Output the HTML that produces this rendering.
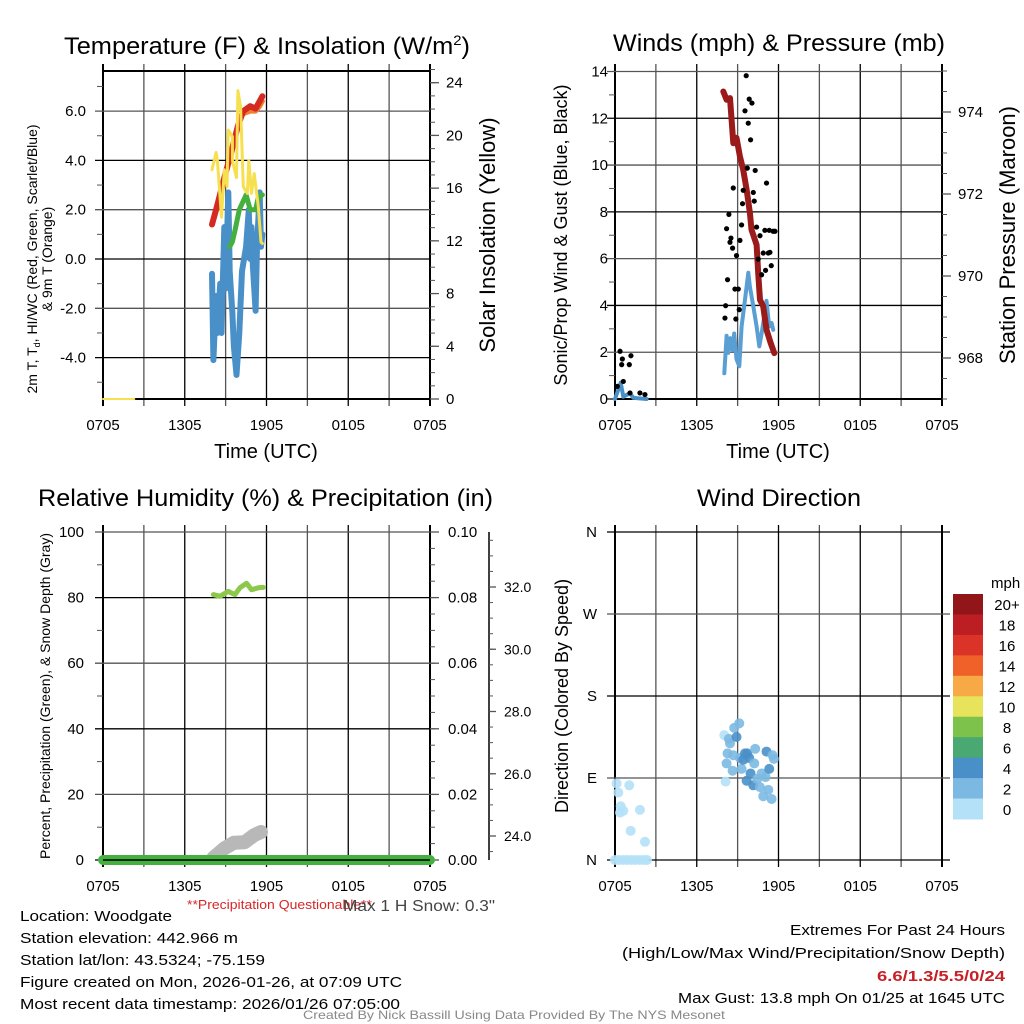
<!DOCTYPE html>
<html><head><meta charset="utf-8"><style>
html,body{margin:0;padding:0;background:#fff;}
svg{display:block;font-family:"Liberation Sans",Arial,sans-serif;}
</style></head><body>
<svg id="chart" width="1024" height="1024" viewBox="0 0 1024 1024">
<rect x="0" y="0" width="1024" height="1024" fill="#fff"/>
<g id="layer"></g>
<!-- titles -->
<text x="64" y="54" font-size="24" textLength="406" lengthAdjust="spacingAndGlyphs">Temperature (F) &amp; Insolation (W/m<tspan dy="-9" font-size="14">2</tspan><tspan dy="9">)</tspan></text>
<text x="613" y="51" font-size="24" textLength="332" lengthAdjust="spacingAndGlyphs">Winds (mph) &amp; Pressure (mb)</text>
<text x="38" y="506" font-size="24" textLength="455" lengthAdjust="spacingAndGlyphs">Relative Humidity (%) &amp; Precipitation (in)</text>
<text x="697" y="506" font-size="24" textLength="164" lengthAdjust="spacingAndGlyphs">Wind Direction</text>
<text x="266" y="458" font-size="20" text-anchor="middle">Time (UTC)</text>
<text x="778" y="458" font-size="20" text-anchor="middle">Time (UTC)</text>
<text transform="translate(37,259) rotate(-90)" font-size="14" text-anchor="middle">2m T, T<tspan font-size="9" dy="3">d</tspan><tspan dy="-3">, HI/WC (Red, Green, Scarlet/Blue)</tspan></text>
<text transform="translate(52,259) rotate(-90)" font-size="14" text-anchor="middle">&amp; 9m T (Orange)</text>
<text transform="translate(495,235) rotate(-90)" font-size="22" text-anchor="middle">Solar Insolation (Yellow)</text>
<text transform="translate(567,235) rotate(-90)" font-size="18" text-anchor="middle">Sonic/Prop Wind &amp; Gust (Blue, Black)</text>
<text transform="translate(1015,235) rotate(-90)" font-size="22" text-anchor="middle">Station Pressure (Maroon)</text>
<text transform="translate(50,696) rotate(-90)" font-size="14" text-anchor="middle">Percent, Precipitation (Green), &amp; Snow Depth (Gray)</text>
<text transform="translate(568,696) rotate(-90)" font-size="18" text-anchor="middle">Direction (Colored By Speed)</text>
<!-- footer -->
<text x="187" y="909" font-size="13" fill="#d62728" textLength="185" lengthAdjust="spacingAndGlyphs">**Precipitation Questionable**</text>
<text x="343" y="911" font-size="16" fill="#444" textLength="152" lengthAdjust="spacingAndGlyphs">Max 1 H Snow: 0.3"</text>
<g font-size="15">
<text x="20" y="921" textLength="152" lengthAdjust="spacingAndGlyphs">Location: Woodgate</text>
<text x="20" y="943" textLength="218" lengthAdjust="spacingAndGlyphs">Station elevation: 442.966 m</text>
<text x="20" y="965" textLength="245" lengthAdjust="spacingAndGlyphs">Station lat/lon: 43.5324; -75.159</text>
<text x="20" y="987" textLength="382" lengthAdjust="spacingAndGlyphs">Figure created on Mon, 2026-01-26, at 07:09 UTC</text>
<text x="20" y="1009" textLength="380" lengthAdjust="spacingAndGlyphs">Most recent data timestamp: 2026/01/26 07:05:00</text>
</g>
<g font-size="15">
<text x="790" y="935" textLength="215" lengthAdjust="spacingAndGlyphs">Extremes For Past 24 Hours</text>
<text x="622" y="958" textLength="383" lengthAdjust="spacingAndGlyphs">(High/Low/Max Wind/Precipitation/Snow Depth)</text>
<text x="877" y="981" fill="#c62026" font-weight="bold" textLength="128" lengthAdjust="spacingAndGlyphs">6.6/1.3/5.5/0/24</text>
<text x="678" y="1003" textLength="327" lengthAdjust="spacingAndGlyphs">Max Gust: 13.8 mph On 01/25 at 1645 UTC</text>
</g>
<text x="303" y="1019" font-size="12" fill="#888" textLength="422" lengthAdjust="spacingAndGlyphs">Created By Nick Bassill Using Data Provided By The NYS Mesonet</text>
</svg>
<script>
// ---- data (hours since 0705 UTC) ----
const xTickLabels = ["0705","1305","1905","0105","0705"];
const tempHours = [8.0,8.4,8.9,9.4,9.9,10.3,10.8,11.2,11.5,11.7];
const tempValues = [1.4,2.2,3.3,4.3,5.4,6.0,6.2,6.1,6.4,6.6];
const temp9mHours = [10.3,10.8,11.2,11.5,11.7];
const temp9mValues = [5.9,6.0,6.0,6.2,6.4];
const insolHours = [8.0,8.3,8.4,8.7,8.9,9.1,9.2,9.5,9.5,9.8,9.9,10.1,10.3,10.6,10.7,10.9,11.1,11.4,11.6,11.7];
const insolValues = [17.4,18.7,18.1,13.8,17.4,16.1,20.4,19.9,18.1,16.8,23.4,22.2,16.1,15.6,18.1,15.6,17.1,14.6,11.9,11.8];
const insolNightHours = [0,2.3];
const insolNightValues = [0,0];
const wcHours = [8.0,8.1,8.3,8.4,8.6,8.7,8.9,9.0,9.2,9.3,9.5,9.6,9.8,10.0,10.2,10.5,10.7,10.8,10.9,11.0,11.2,11.3,11.5,11.6,11.7];
const wcValues = [-0.6,-4.1,-1.5,-3.0,-1.0,-3.0,1.3,-1.2,2.7,-0.5,-2.2,-3.5,-4.7,-3.0,-0.5,0.5,2.0,0.0,1.3,-0.3,-2.1,0.5,2.7,0.5,1.0];
const dewHours = [9.3,9.5,9.7,10.0,10.5,10.8,11.2,11.4,11.7];
const dewValues = [0.5,0.7,1.2,2.0,2.6,2.0,2.0,2.5,2.6];
const tempTicks = [-4,-2,0,2,4,6];
const insolTicks = [0,4,8,12,16,20,24];

const gustHours = [0.37,0.49,0.54,0.61,0.17,1.05,1.17,1.1,1.83,2.2,8.07,8.12,8.19,8.26,8.36,8.44,8.51,8.63,8.68,8.8,8.87,8.92,9.05,9.12,9.17,9.29,9.36,9.41,9.54,9.63,9.78,9.85,9.95,10.05,9.71,10.15,10.22,10.29,10.39,10.51,10.64,10.76,10.88,11.0,11.05,11.12,11.25,11.32,11.37,11.47,11.61,11.74];
const gustValues = [2.04,1.47,1.71,0.75,0.54,1.47,1.85,0.26,0.26,0.19,3.46,3.99,7.28,5.1,7.89,6.7,6.88,6.45,9.02,4.7,3.42,6.13,4.7,3.82,6.78,7.44,8.35,8.92,12.32,13.82,11.79,12.82,11.08,12.65,9.87,8.83,8.46,9.77,7.35,5.98,6.98,5.31,6.24,7.21,5.5,9.23,6.24,7.21,6.27,5.7,7.17,7.17];
const windHours = [0,0.24,0.42,0.61,1.1,1.34,2.32];
const windValues = [0,0.4,0.7,0.1,0.25,0.05,0];
const windHours2 = [8.02,8.19,8.31,8.48,8.63,8.75,8.92,9.12,9.29,9.54,9.78,9.9,10.15,10.39,10.59,10.76,11.0,11.12,11.32,11.49,11.61];
const windValues2 = [1.1,2.7,1.97,2.6,2.1,2.8,1.7,1.4,3.1,4.25,5.4,4.8,3.96,3.1,2.25,2.8,3.7,4.2,3.1,3.25,2.96];
const presHours = [7.95,8.19,8.44,8.56,8.68,8.92,9.17,9.41,9.66,9.9,10.02,10.39,10.51,10.64,10.88,11.12,11.42,11.69];
const presValues = [974.5,974.3,974.34,973.81,973.24,973.37,972.92,972.59,972.11,971.54,971.13,970.76,970.07,969.42,969.26,968.69,968.37,968.12];
const windTicks = [0,2,4,6,8,10,12,14];
const presTicks = [968,970,972,974];

const rhHours = [8.1,8.58,9.2,9.68,10.05,10.54,10.9,11.4,11.76];
const rhValues = [80.9,80.4,81.9,80.9,83.0,84.4,82.4,83.0,83.1];
const precipHours = [0,24];
const precipValues = [0,0];
const snowHours = [8.1,8.9,9.6,10.4,11.1,11.6];
const snowValues = [23.3,23.6,23.78,23.8,24.03,24.13];
const rhTicks = [0,20,40,60,80,100];
const precipTicks = ["0.00","0.02","0.04","0.06","0.08","0.10"];
const snowTicks = [24,26,28,30,32];

const dirHours = [0.12,0.24,0.42,0.37,0.61,1.05,1.15,1.83,2.2,0,0.3,0.6,0.9,1.2,1.5,1.8,2.1,2.35,8.02,8.12,8.19,8.26,8.36,8.44,8.63,8.68,8.75,8.92,9.12,9.17,9.29,9.41,9.54,9.66,9.71,9.85,9.95,10.15,10.22,10.29,10.44,10.64,10.76,10.88,11.05,11.12,11.25,11.32,11.49,11.56,11.66];
const dirValues = [84,74,59,52,54,82,32,55,20,0,0,0,0,0,0,0,0,0,137,86,106,117,133,128,98,115,145,135,150,112,100,110,117,87,117,112,95,82,106,122,89,80,95,70,91,119,77,100,67,115,111];
const dirSpeeds = [0,0,0,0,0,0,0,0,0,0,0,0,0,0,0,0,0,0,0,0,2,2,2,2,2,2,2,4,2,2,2,4,4,4,4,4,4,4,2,2,2,2,2,2,2,4,2,4,2,2,2];
const dirTicks = ["N","E","S","W","N"];
const speedLabels = ["20+","18","16","14","12","10","8","6","4","2","0"];
const speedColors = ["#921519","#bd1e24","#db3327","#ef6129","#f6a945","#e7e35b","#7dc24b","#4aa873","#4a90c8","#7cb9e2","#b4e1f7"];

// ---- helpers ----
const NS="http://www.w3.org/2000/svg";
const layer=document.getElementById('layer');
function mk(tag,attrs,parent){const e=document.createElementNS(NS,tag);for(const k in attrs)e.setAttribute(k,attrs[k]);(parent||layer).appendChild(e);return e;}
function linScale(d0,d1,r0,r1){return v=>r0+(v-d0)*(r1-r0)/(d1-d0);}
function poly(xs,ys,sx,sy){return xs.map((h,i)=>sx(h).toFixed(1)+","+sy(ys[i]).toFixed(1)).join(" ");}

function panel(name,x0,x1,y0,y1){
  const g=mk('g',{});
  
  
  for(let i=0;i<=8;i++){
    const x=x0+(x1-x0)*i/8;
    mk('line',{x1:x,x2:x,y1:y0-7,y2:y1+7,stroke:(i%2?'#555':'#000'),'stroke-width':(i==0||i==8)?2:1.3},g);
  }
  const lab=mk('g',{'font-size':15,'text-anchor':'middle'});
  
  
  xTickLabels.forEach((t,i)=>{const tx=mk('text',{x:x0+(x1-x0)*i/4,y:y1+31},lab);tx.textContent=t;});
}
function hGrid(name,x0,x1,ys,labels,lx){
  const g=mk('g',{'font-size':15,'text-anchor':'end'});
  
  
  ys.forEach((y,i)=>{
    mk('line',{x1:x0-8,x2:x1,y1:y,y2:y,stroke:(i%2?'#555':'#000'),'stroke-width':1.3},g);
    if(labels){const t=mk('text',{x:lx,y:y+5},g);t.textContent=labels[i];}
  });
}
function ticks(name,x,ys,len,w){
  const g=mk('g',{});
  
  
  ys.forEach(y=>mk('line',{x1:x,x2:x+len,y1:y,y2:y,stroke:'#555','stroke-width':w||1},g));
}
function rightLabels(name,x,ys,labels,fs){
  const g=mk('g',{'font-size':fs||15});
  
  
  ys.forEach((y,i)=>{const t=mk('text',{x:x,y:y+5},g);t.textContent=labels[i];});
}
function line(name,xs,ys,sx,sy,color,w,op){
  const p=mk('polyline',{points:poly(xs,ys,sx,sy),fill:'none',stroke:color,'stroke-width':w,'stroke-linecap':'round','stroke-linejoin':'round',opacity:op||1});
  
  
}

// ---- Panel 1: temperature ----
(function(){
  const X0=103,X1=430,Y0=71,Y1=399;
  const sx=linScale(0,24,X0,X1), sy=linScale(0,2,259,209.7), si=linScale(0,24,399,82.7);
  panel('temp',X0,X1,Y0,Y1);
  hGrid('temp-y-grid',X0,X1,tempTicks.map(sy),tempTicks.map(v=>v.toFixed(1)),86);
  const minor=[];for(let v=-5;v<=7;v++)if(v%2)minor.push(sy(v));
  ticks('temp-minor-ticks',X0-6,minor,6);
  mk('line',{x1:X0,x2:X1,y1:Y1,y2:Y1,stroke:'#000','stroke-width':2});
  mk('line',{x1:X0,x2:X1,y1:Y0,y2:Y0,stroke:'#000','stroke-width':2});
  const im=[];for(let v=0;v<=25;v++)im.push(si(v));
  ticks('insolation-minor-ticks',X1,im,5);
  ticks('insolation-major-ticks',X1,insolTicks.map(si),9,1.3);
  rightLabels('insolation-tick-labels',446,insolTicks.map(si),insolTicks.map(String));
  line('wind-chill-line',wcHours,wcValues,sx,sy,'#4a90c8',6);
  line('dewpoint-line',dewHours,dewValues,sx,sy,'#44b040',5);
  line('temp-9m-line',temp9mHours,temp9mValues,sx,sy,'#f08030',5);
  line('temp-2m-line',tempHours,tempValues,sx,sy,'#d42a20',6);
  line('insolation-line',insolHours,insolValues,sx,si,'#f6e050',3);
  line('insolation-night-line',insolNightHours,insolNightValues,sx,si,'#f6e050',2);
})();

// ---- Panel 2: winds ----
(function(){
  const X0=615,X1=942,Y0=71,Y1=399;
  const sx=linScale(0,24,X0,X1), sy=linScale(0,14,399,71.5), sp=linScale(968,974,358,112);
  panel('wind',X0,X1,Y0,Y1);
  hGrid('wind-y-grid',X0,X1,windTicks.map(sy),windTicks.map(String),608);
  const minor=[];for(let v=1;v<14;v+=2)minor.push(sy(v));
  ticks('wind-minor-ticks',X0-6,minor,6);
  mk('line',{x1:X0,x2:X1,y1:Y1,y2:Y1,stroke:'#000','stroke-width':2});
  const pm=[];for(let v=967;v<=975;v+=0.5)pm.push(sp(v));
  ticks('pressure-minor-ticks',X1,pm.filter(y=>y>=Y0&&y<=Y1),5);
  ticks('pressure-major-ticks',X1,presTicks.map(sp),9,1.3);
  rightLabels('pressure-tick-labels',958,presTicks.map(sp),presTicks.map(String));
  line('wind-speed-line-early',windHours,windValues,sx,sy,'#4a90c8',4);
  line('wind-speed-line',windHours2,windValues2,sx,sy,'#5a9fd4',4);
  line('pressure-line',presHours,presValues,sx,sp,'#9b1b1b',6);
  gustHours.forEach((h,i)=>{
    const c=mk('circle',{cx:sx(h),cy:sy(gustValues[i]),r:2.6,fill:'#000'});
    
    
  });
})();

// ---- Panel 3: humidity ----
(function(){
  const X0=103,X1=430,Y0=532,Y1=860;
  const sx=linScale(0,24,X0,X1), sy=linScale(0,100,860,532), ss=linScale(24,32,836,587);
  panel('humidity',X0,X1,Y0,Y1);
  hGrid('humidity-y-grid',X0,X1,rhTicks.map(sy),rhTicks.map(String),84);
  const minor=[];for(let v=10;v<100;v+=20)minor.push(sy(v));
  ticks('humidity-minor-ticks',X0-6,minor,6);
  const pm=[];for(let v=5;v<100;v+=5)pm.push(sy(v));
  ticks('precip-minor-ticks',X1,pm,5);
  ticks('precip-major-ticks',X1,rhTicks.map(sy),9,1.3);
  rightLabels('precip-tick-labels',448,rhTicks.map(sy),precipTicks);
  mk('line',{x1:489,x2:489,y1:Y0,y2:Y1,stroke:'#000','stroke-width':1.5});
  const sm=[];for(let v=23;v<=33.5;v+=0.5)sm.push(ss(v));
  ticks('snow-minor-ticks',489,sm.filter(y=>y>=Y0&&y<=Y1),4);
  ticks('snow-major-ticks',489,snowTicks.map(ss),7,1.3);
  rightLabels('snow-tick-labels',504,snowTicks.map(ss),snowTicks.map(v=>v.toFixed(1)),14);
  const cp=mk('clipPath',{id:'snowclip'});mk('rect',{x:X0-10,y:Y0,width:X1-X0+20,height:Y1-Y0+8},cp);
  const sl=mk('polyline',{points:poly(snowHours,snowValues,sx,ss),fill:'none',stroke:'#b8b8b8','stroke-width':14,'stroke-linecap':'round','stroke-linejoin':'round','clip-path':'url(#snowclip)'});
  
  
  line('precip-line',precipHours,precipValues,sx,sy,'#44b040',10);
  mk('line',{x1:X0,x2:X1,y1:Y1,y2:Y1,stroke:'#000','stroke-width':1.5});
  line('humidity-line',rhHours,rhValues,sx,sy,'#8cc84a',5);
})();

// ---- Panel 4: wind direction ----
(function(){
  const X0=615,X1=942,Y0=532,Y1=860;
  const sx=linScale(0,24,X0,X1), sy=linScale(0,360,860,532);
  panel('direction',X0,X1,Y0,Y1);
  hGrid('direction-y-grid',X0,X1+8,[0,90,180,270,360].map(sy),dirTicks,597);
  dirHours.forEach((h,i)=>{
    const idx=10-Math.min(10,Math.floor(dirSpeeds[i]/2));
    const c=mk('circle',{cx:sx(h),cy:sy(dirValues[i]),r:5,fill:speedColors[idx],opacity:0.9});
    
    
  });
  const lg=mk('g',{});
  
  
  const t=mk('text',{x:991,y:588,'font-size':15},lg);t.textContent='mph';
  const bh=(819-594)/speedColors.length;
  speedColors.forEach((c,i)=>{
    const r=mk('rect',{x:953,y:594+i*bh,width:30,height:bh+0.5,fill:c},lg);
    
    
    const tx=mk('text',{x:1007,y:594+i*bh+bh/2+6,'font-size':15,'text-anchor':'middle'},lg);
    tx.textContent=speedLabels[i];
  });
})();
</script>
</body></html>
